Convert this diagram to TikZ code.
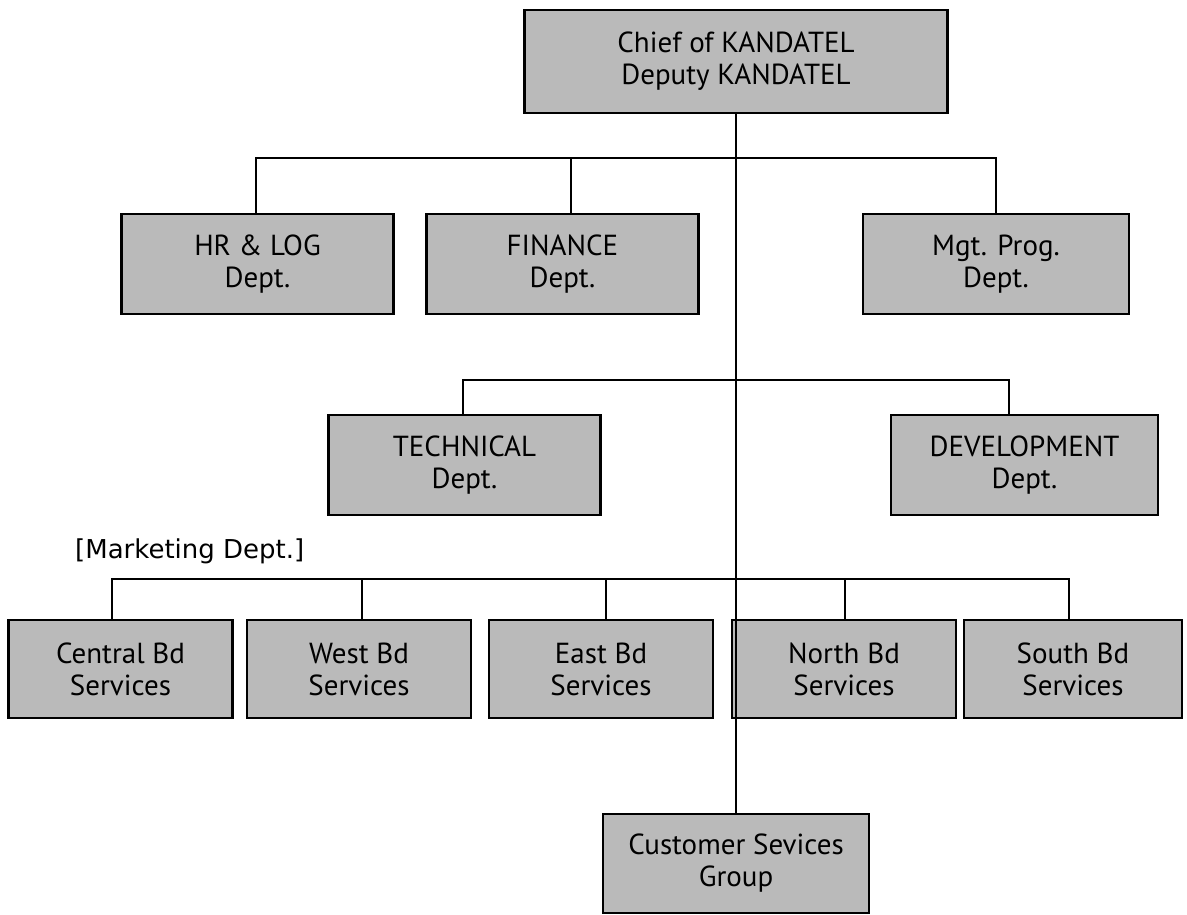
\documentclass[tikz,border=0pt]{standalone}
\usepackage{fontspec}
\setmainfont{PT Sans}
\newfontfamily\labelfont{DejaVu Sans}
\begin{document}
\begin{tikzpicture}[x=1pt,y=-1pt,
  orgbox/.style={draw=black, line width=2.5pt, fill=black!27, align=center, inner sep=0pt,
    font=\fontsize{29}{32}\selectfont},
  wide/.style={minimum width=272pt, minimum height=100pt},
  small/.style={minimum width=224pt, minimum height=98pt},
  conn/.style={line width=2pt}]
\useasboundingbox (0,0) rectangle (1187,914);

\node[orgbox, minimum width=423pt, minimum height=103pt] (top) at (736,61.5) {Chief of KANDATEL\\Deputy KANDATEL};

\node[orgbox, wide] (hr)  at (257.5,264) {HR \& LOG\\Dept.};
\node[orgbox, wide] (fin) at (562.5,264) {FINANCE\\Dept.};
\node[orgbox, wide, minimum width=266pt] (mgt) at (996,264) {Mgt. Prog.\\Dept.};

\node[orgbox, wide] (tech) at (464.5,465) {TECHNICAL\\Dept.};
\node[orgbox, wide, minimum width=267pt] (dev) at (1024.5,465) {DEVELOPMENT\\Dept.};

\node[anchor=base west, font=\labelfont\fontsize{26}{30}\selectfont, inner sep=0pt] (mkt) at (75,558) {[Marketing Dept.]};

\node[orgbox, small] (cen)   at (120.5,669) {Central Bd\\Services};
\node[orgbox, small] (west)  at (359,669) {West Bd\\Services};
\node[orgbox, small] (east)  at (601,669) {East Bd\\Services};
\node[orgbox, small] (north) at (844,669) {North Bd\\Services};
\node[orgbox, small, minimum width=218pt] (south) at (1073,669) {South Bd\\Services};

\node[orgbox, minimum width=266pt, minimum height=99pt] (cust) at (736,863.5) {Customer Sevices\\Group};

% buses
\coordinate (b1l) at (256,158);
\coordinate (b1f) at (571,158);
\coordinate (b1r) at (996,158);
\coordinate (b2l) at (463,380);
\coordinate (b2r) at (1009,380);
\coordinate (b3a) at (112,579);
\coordinate (b3b) at (362,579);
\coordinate (b3c) at (606,579);
\coordinate (b3d) at (845,579);
\coordinate (b3e) at (1069,579);

\draw[conn] (top.south) -- (cust.north);
\draw[conn] (b1l |- hr.north) -- (b1l) -- (b1r) -- (mgt.north);
\draw[conn] (b1f) -- (b1f |- fin.north);
\draw[conn] (b2l |- tech.north) -- (b2l) -- (b2r) -- (b2r |- dev.north);
\draw[conn] (b3a |- cen.north) -- (b3a) -- (b3e) -- (b3e |- south.north);
\draw[conn] (b3b) -- (b3b |- west.north);
\draw[conn] (b3c) -- (b3c |- east.north);
\draw[conn] (b3d) -- (b3d |- north.north);
\end{tikzpicture}
\end{document}
